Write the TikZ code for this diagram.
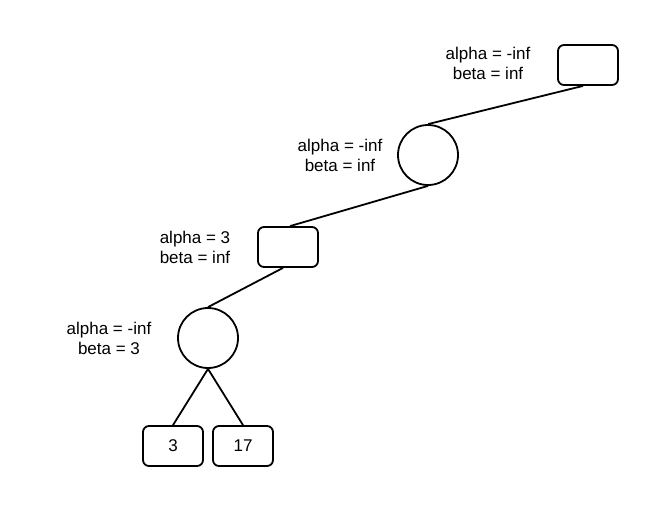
\documentclass[tikz,border=0pt]{standalone}
\usepackage{fontspec}
\setmainfont{Liberation Sans}
\usetikzlibrary{positioning}

\begin{document}
\begin{tikzpicture}[x=1pt, y=-1pt,
  maxnode/.style={draw, line width=1.8pt, rounded corners=6pt, minimum width=60pt, minimum height=40pt, inner sep=0pt, font=\fontsize{17}{20}\selectfont},
  minnode/.style={draw, circle, line width=1.8pt, minimum size=60pt, inner sep=0pt},
  bounds/.style={align=center, inner sep=0pt, font=\fontsize{17}{20}\selectfont},
  edge/.style={line width=1.8pt}]
\useasboundingbox (0,0) rectangle (658,507);
% tree nodes
\node[maxnode] (root) at (588,65) {};
\node[minnode] (m1) at (428,155) {};
\node[maxnode] (x2) at (288,247) {};
\node[minnode] (m2) at (208,338) {};
\node[maxnode] (leafa) at (173,446) {3};
\node[maxnode] (leafb) at (243,446) {17};
% alpha/beta values
\node[bounds] (broot) at (488,63) {alpha = -inf\\beta = inf};
\node[bounds] (bm1) at (340,155) {alpha = -inf\\beta = inf};
\node[bounds] (bx2) at (195,247) {alpha = 3\\beta = inf};
\node[bounds] (bm2) at (109,338) {alpha = -inf\\beta = 3};
% edges
\draw[edge] ([xshift=-5pt]root.south) -- (m1.north);
\draw[edge] (m1.south) -- ([xshift=2pt]x2.north);
\draw[edge] ([xshift=-5pt]x2.south) -- (m2.north);
\draw[edge] (m2.south) -- (leafa.north);
\draw[edge] (m2.south) -- (leafb.north);
\end{tikzpicture}
\end{document}
